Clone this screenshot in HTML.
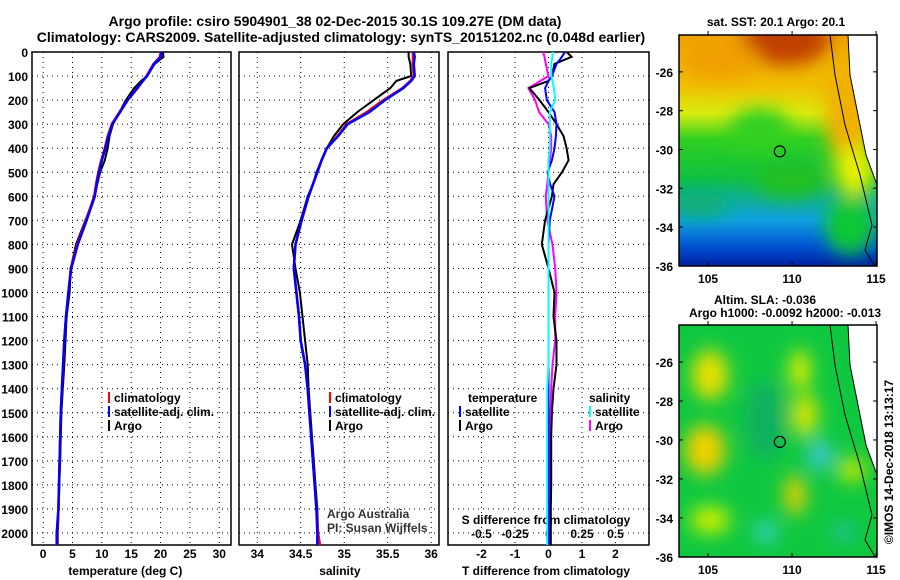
<!DOCTYPE html>
<html><head><meta charset="utf-8"><style>
body{margin:0;background:#fff}
svg{display:block;font-family:"Liberation Sans",sans-serif}
.b{font-weight:bold;font-size:12px}
</style></head><body>
<svg id="c" width="900" height="580" viewBox="0 0 900 580">
<defs>
<linearGradient id="sst" x1="0" y1="0" x2="0" y2="1">
<stop offset="0" stop-color="#f0a000"/><stop offset="0.22" stop-color="#f0c000"/>
<stop offset="0.34" stop-color="#d8ec10"/><stop offset="0.45" stop-color="#30d020"/>
<stop offset="0.62" stop-color="#10c040"/><stop offset="0.7" stop-color="#10b090"/>
<stop offset="0.8" stop-color="#10a0e0"/><stop offset="0.92" stop-color="#0050d0"/>
<stop offset="1" stop-color="#0020a0"/></linearGradient>
<filter id="bl" x="-50%" y="-50%" width="200%" height="200%"><feGaussianBlur stdDeviation="9"/></filter>
<clipPath id="m1"><rect x="679" y="35" width="198" height="231"/></clipPath>
<clipPath id="m2"><rect x="679" y="325" width="198" height="232"/></clipPath>
<clipPath id="p1"><rect x="32" y="52" width="199" height="493"/></clipPath>
<clipPath id="p2"><rect x="239" y="52" width="200" height="493"/></clipPath>
<clipPath id="p3"><rect x="448" y="52" width="201" height="493"/></clipPath>
</defs>
<text x="335" y="26" text-anchor="middle" font-size="14" font-weight="bold">Argo profile: csiro 5904901_38 02-Dec-2015 30.1S 109.27E (DM data)</text>
<text x="341" y="42" text-anchor="middle" font-size="14" font-weight="bold">Climatology: CARS2009. Satellite-adjusted climatology: synTS_20151202.nc (0.048d earlier)</text>
<g id="g"></g>
</svg>
<script>
const depths=[0,20,50,100,120,150,200,250,300,350,400,450,500,550,600,700,800,900,1000,1100,1200,1300,1400,1500,1600,1700,1800,1900,2000,2050];
const tempClim=[20.0,19.9,18.8,17.6,17.0,16.1,14.4,13.0,11.7,11.0,10.5,9.9,9.4,9.0,8.7,7.3,5.8,4.7,4.3,3.9,3.6,3.4,3.2,3.0,2.9,2.8,2.7,2.6,2.4,2.4];
const tempSat=[20.2,20.0,18.9,17.7,17.0,16.0,14.4,13.1,11.8,11.1,10.6,10.0,9.5,9.1,8.8,7.4,5.9,4.8,4.3,3.9,3.6,3.4,3.2,3.0,2.9,2.8,2.7,2.6,2.3,2.3];
const tempArgo=[20.4,20.5,19.0,17.7,16.7,15.5,14.1,13.0,11.9,11.3,11.0,10.5,9.7,9.2,8.8,7.2,5.6,4.7,4.5,4.0,3.8,3.6,3.35,3.1,3.0,2.9,2.75,2.65,2.5,2.5];
const salClim=[35.79,35.79,35.79,35.80,35.76,35.67,35.45,35.26,35.03,34.92,34.80,34.74,34.69,34.64,34.59,34.51,34.44,34.42,34.45,34.48,34.50,34.55,34.58,34.60,34.62,34.64,34.66,34.68,34.70,34.72];
const salSat=[35.80,35.81,35.80,35.81,35.77,35.68,35.47,35.29,35.04,34.93,34.80,34.74,34.69,34.64,34.59,34.51,34.44,34.42,34.45,34.48,34.50,34.55,34.58,34.60,34.62,34.64,34.66,34.68,34.69,34.69];
const salArgo=[35.74,35.74,35.76,35.77,35.60,35.53,35.34,35.15,34.99,34.88,34.80,34.74,34.68,34.64,34.58,34.50,34.40,34.44,34.49,34.52,34.55,34.58,34.59,34.61,34.63,34.65,34.67,34.69,34.70,34.70];
const tDiffArgo=[0.54,0.69,0.18,0.10,0.0,-0.57,-0.27,0.0,0.24,0.45,0.54,0.60,0.40,0.15,0.10,-0.10,-0.20,0.0,0.18,0.15,0.24,0.24,0.15,0.10,0.08,0.08,0.08,0.07,0.07,0.07];
const tDiffSat=[0.49,0.40,0.24,0.10,0.0,-0.10,-0.05,0.18,0.24,0.22,0.18,0.10,-0.03,0.05,0.18,0.04,0.0,0.0,0.0,0.0,0.0,0.0,0.0,0.0,0.0,0.0,0.0,0.0,0.0,0.0];
const sDiffArgo=[-0.04,-0.03,-0.02,0.0,-0.06,-0.15,-0.10,-0.07,0.0,0.02,0.02,0.01,0.0,-0.01,-0.02,-0.01,0.03,0.05,0.06,0.05,0.05,0.03,0.02,0.015,0.01,0.01,0.01,0.01,0.01,0.01];
const sDiffSat=[0.03,0.03,0.02,0.02,0.03,0.04,0.05,0.01,0.01,0.01,0.01,0.0,0.0,0.0,0.0,0.0,0.0,0.0,0.0,0.0,0.0,0.0,-0.01,-0.01,-0.01,-0.01,-0.01,-0.01,-0.01,-0.01];
const depthTicks=[0,100,200,300,400,500,600,700,800,900,1000,1100,1200,1300,1400,1500,1600,1700,1800,1900,2000];
const tempTicks=[0,5,10,15,20,25,30];
const salTicks=[34,34.5,35,35.5,36];
const tdTicks=[-2,-1,0,1,2];
const sdTicks=[-0.5,-0.25,0,0.25,0.5];
const latTicks=[-26,-28,-30,-32,-34,-36];
const lonTicks=[105,110,115];
const argoPos=[109.27,-30.1];

const NS='http://www.w3.org/2000/svg',G=document.getElementById('g');
function mk(t,a,p){const e=document.createElementNS(NS,t);for(const k in a)e.setAttribute(k,a[k]);(p||G).appendChild(e);return e;}
const Y=d=>52+d*0.2405;
const P=[{x0:32,x1:231,d0:-1.9,d1:32,clip:'p1',n:'temperature'},{x0:239,x1:439,d0:33.79,d1:36.09,clip:'p2',n:'salinity'},{x0:448,x1:649,d0:-3,d1:3,clip:'p3',n:'difference'}];
P.forEach(p=>p.X=v=>p.x0+(v-p.d0)/(p.d1-p.d0)*(p.x1-p.x0));
const sdX=v=>P[2].X(v*4);
function txt(x,y,s,a,cls,name,extra){const e=mk('text',Object.assign({x:x,y:y,'text-anchor':a||'middle',class:cls||'b'},extra||{}));e.textContent=s;return e;}
P.forEach((p,i)=>{
 const f=mk('rect',{x:p.x0,y:52,width:p.x1-p.x0,height:493,fill:'#fff',stroke:'#000','stroke-width':1.5});
 
 depthTicks.forEach(d=>{const l=mk('line',{x1:p.x0,x2:p.x1,y1:Y(d),y2:Y(d),stroke:'#000','stroke-dasharray':'1,4'});});
 const vt=i==0?tempTicks:i==1?salTicks:tdTicks;
 vt.forEach(v=>{const l=mk('line',{x1:p.X(v),x2:p.X(v),y1:52,y2:545,stroke:'#000','stroke-dasharray':'1,4'});
  txt(p.X(v),558,String(v),'middle','b','x-tick-label');});
});
depthTicks.forEach(d=>txt(28,Y(d)+5,String(d),'end','b','depth-tick-label'));
txt(P[0].X(14),575,'temperature (deg C)','middle','b','temperature-axis-title');
txt(P[1].X(34.95),575,'salinity','middle','b','salinity-axis-title');
txt(546,575,'T difference from climatology','middle','b','t-diff-axis-title');
sdTicks.forEach(v=>txt(sdX(v),538,String(v),'middle','b','s-diff-tick-label'));
txt(546,524,'S difference from climatology','middle','b','s-diff-axis-title');
function line(vals,X,col,w,clip,name){const pts=vals.map((v,i)=>X(v).toFixed(1)+','+Y(depths[i]).toFixed(1)).join(' ');const e=mk('polyline',{points:pts,fill:'none',stroke:col,'stroke-width':w,'clip-path':'url(#'+clip+')'});}
line(tempArgo,P[0].X,'#000',2,'p1','temp-argo-line');line(tempClim,P[0].X,'#f00',2.5,'p1','temp-climatology-line');line(tempSat,P[0].X,'#00f',2.5,'p1','temp-satellite-line');
line(salArgo,P[1].X,'#000',2,'p2','sal-argo-line');line(salClim,P[1].X,'#f00',2.5,'p2','sal-climatology-line');line(salSat,P[1].X,'#00f',2.5,'p2','sal-satellite-line');
line(sDiffArgo,sdX,'#f0f',2,'p3','s-diff-argo-line');line(tDiffArgo,P[2].X,'#000',2,'p3','t-diff-argo-line');line(tDiffSat,P[2].X,'#00f',2,'p3','t-diff-satellite-line');line(sDiffSat,sdX,'#0ff',2,'p3','s-diff-satellite-line');
function leg(x,y,col,s,n){const r=mk('rect',{x:x,y:y-10,width:2,height:11,fill:col});txt(x+6,y,s,'start','b',n+'-label');}
[[0,108],[1,329]].forEach(([i,x])=>{leg(x,402,'#f00','climatology','legend-climatology');leg(x,416,'#00f','satellite-adj. clim.','legend-satellite');leg(x,430,'#000','Argo','legend-argo');});
txt(468,402,'temperature','start','b','legend-temperature-heading');leg(459,416,'#00f','satellite','legend-t-satellite');leg(459,430,'#000','Argo','legend-t-argo');
txt(589,402,'salinity','start','b','legend-salinity-heading');leg(589,416,'#0ff','satellite','legend-s-satellite');leg(589,430,'#f0f','Argo','legend-s-argo');
txt(327,518,'Argo Australia','start','','credit-argo-australia',{'font-size':'12',fill:'#333'});
txt(327,532,'PI: Susan Wijffels','start','','credit-pi',{'font-size':'12',fill:'#333'});
const lonX=v=>679+(v-103.27)*16.8;
[[35,'m1','sst-map'],[325,'m2','sla-map']].forEach(([y0,clip,n],k)=>{
 const latY=v=>y0+(-24.1-v)*19.4*(k?232/231:1);
 const g=mk('g',{'clip-path':'url(#'+clip+')'});
 if(k==0){mk('rect',{x:679,y:y0,width:198,height:231,fill:'url(#sst)'},g);
  const bl=mk('g',{filter:'url(#bl)'},g);
  [[785,40,45,25,'#c04000'],[720,60,40,20,'#f0a000'],[850,110,25,60,'#f0b000'],[855,170,20,25,'#e8f000'],[850,225,25,30,'#10c830'],[700,205,30,12,'#10b070'],[760,130,30,22,'#30d020'],[790,180,35,18,'#20c020']].forEach(b=>mk('ellipse',{cx:b[0],cy:b[1],rx:b[2],ry:b[3],fill:b[4]},bl));}
 else{mk('rect',{x:679,y:y0,width:198,height:232,fill:'#10c840'},g);
  const bl=mk('g',{filter:'url(#bl)'},g);
  [[710,375,18,25,'#e8e000'],[705,450,20,25,'#f0d000'],[800,370,10,20,'#e8f000'],[805,415,12,22,'#e0e800'],[795,495,10,20,'#f0d000'],[852,470,14,12,'#c8e800'],[710,520,20,14,'#c8f000'],[820,455,12,14,'#40c8e0'],[766,532,10,10,'#40d0e0'],[765,402,10,12,'#20c0a0'],[843,532,10,10,'#20c0a0'],[765,420,20,40,'#10b060']].forEach(b=>mk('ellipse',{cx:b[0],cy:b[1],rx:b[2],ry:b[3],fill:b[4]},bl));}
 const land=mk('polygon',{points:`848,${y0} 877,${y0} 877,${y0+150} 866,${y0+120} 858,${y0+80} 850,${y0+40}`,fill:'#fff',stroke:'#000','stroke-width':1},g);
 mk('polyline',{points:`830,${y0} 835,${y0+40} 845,${y0+90} 860,${y0+140} 872,${y0+190} 865,${y0+215} 877,${y0+235}`,fill:'none',stroke:'#000','stroke-width':1},g);
 const fr=mk('rect',{x:679,y:y0,width:198,height:k?232:231,fill:'none',stroke:'#000','stroke-width':1.5});
 latTicks.forEach(v=>{mk('line',{x1:679,x2:683,y1:latY(v),y2:latY(v),stroke:'#000'});mk('line',{x1:873,x2:877,y1:latY(v),y2:latY(v),stroke:'#000'});txt(673,latY(v)+5,String(v),'end','b','lat-tick-label');});
 const yb=y0+(k?232:231);
 lonTicks.forEach(v=>{mk('line',{x1:lonX(v),x2:lonX(v),y1:yb,y2:yb-4,stroke:'#000'});mk('line',{x1:lonX(v),x2:lonX(v),y1:y0,y2:y0-4,stroke:'#000'});txt(lonX(v),yb+17,String(v),'middle','b','lon-tick-label');});
 const c=mk('circle',{cx:lonX(argoPos[0]),cy:latY(argoPos[1]),r:5.5,fill:'none',stroke:'#000','stroke-width':1.2});
});
txt(776,26,'sat. SST: 20.1 Argo: 20.1','middle','b','sst-map-title');
txt(765,304,'Altim. SLA: -0.036','middle','b','sla-map-title');
txt(785,317,'Argo h1000: -0.0092 h2000: -0.013','middle','b','sla-map-subtitle');
txt(0,0,'©IMOS 14-Dec-2018 13:13:17','middle','','imos-timestamp',{'font-size':'12',transform:'translate(893,462) rotate(-90)'});
</script>
</body></html>
